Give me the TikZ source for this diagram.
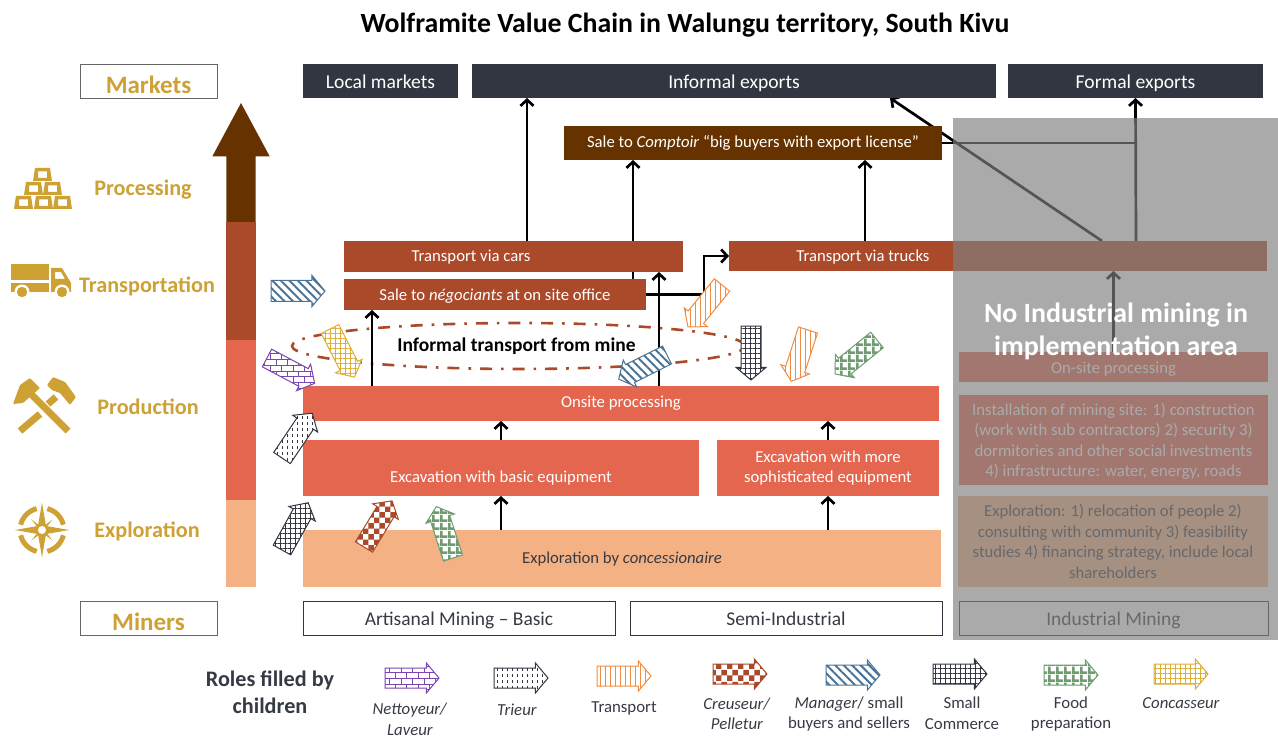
\documentclass[tikz,border=0pt]{standalone}
\usepackage{fontspec}
\setmainfont{Carlito}
\usetikzlibrary{arrows.meta,shapes.arrows,shapes.geometric,patterns,patterns.meta}

\definecolor{marketdark}{HTML}{323640}
\definecolor{procbrown}{HTML}{663300}
\definecolor{transrust}{HTML}{AB4A2B}
\definecolor{prodred}{HTML}{E5664F}
\definecolor{explpeach}{HTML}{F4B183}
\definecolor{icongold}{HTML}{CDA134}
\definecolor{textdark}{HTML}{363A44}
\definecolor{rolepurple}{HTML}{7A45B5}
\definecolor{roleorange}{HTML}{F08C42}
\definecolor{roleblue}{HTML}{4A7497}
\definecolor{rolegreen}{HTML}{6F9C70}
\definecolor{roleyellow}{HTML}{DDAE35}

\pgfdeclarelayer{back}
\pgfsetlayers{back,main}

\pgfdeclarepatternformonly{shortdashes}{\pgfqpoint{-1pt}{-1pt}}{\pgfqpoint{6pt}{7pt}}{\pgfqpoint{5pt}{6pt}}{
  \pgfsetlinewidth{0.7pt}
  \pgfpathmoveto{\pgfqpoint{2pt}{1pt}}
  \pgfpathlineto{\pgfqpoint{2pt}{3.5pt}}
  \pgfusepath{stroke}}
\pgfdeclarepatternformonly{plaid}{\pgfqpoint{0pt}{0pt}}{\pgfqpoint{8pt}{8pt}}{\pgfqpoint{8pt}{8pt}}{
  \pgfpathrectangle{\pgfqpoint{0pt}{0pt}}{\pgfqpoint{8pt}{3pt}}
  \pgfpathrectangle{\pgfqpoint{0pt}{0pt}}{\pgfqpoint{3pt}{8pt}}
  \pgfusepath{fill}}

\tikzset{
  box/.style={rectangle,inner sep=0pt,outer sep=0pt,align=center,text=white,
    font=\fontsize{16.7}{20.4}\selectfont},
  oneline/.style={text height=12pt,text depth=0pt},
  darkbox/.style={box,text height=16pt,text depth=0pt,fill=marketdark,minimum height=34pt,font=\fontsize{19.6}{22}\selectfont},
  headbox/.style={box,draw=gray!80!black,line width=0.8pt,fill=white,minimum width=137pt,minimum height=34pt,
    text=icongold,text height=25.5pt,text depth=0pt,font=\fontsize{25}{26}\selectfont\bfseries},
  minerbox/.style={box,text height=14pt,text depth=0pt,draw=marketdark,line width=0.8pt,fill=white,minimum width=312pt,minimum height=34pt,
    text=textdark,font=\fontsize{19.5}{22}\selectfont},
  stage/.style={text=icongold,inner sep=0pt,text height=15pt,text depth=5pt,font=\fontsize{22.2}{24}\selectfont\bfseries},
  flow/.style={line width=2.7pt,-{Straight Barb[length=6pt,width=13pt,line width=2.7pt]}},
  plain/.style={line width=2.7pt},
  legendtext/.style={align=center,text=textdark,inner sep=0pt,font=\fontsize{16.8}{20.5}\selectfont},
  rolearrow/.style={single arrow,single arrow head extend=5pt,single arrow tip angle=100,
    single arrow head indent=0pt,minimum height=54pt,minimum width=29pt,inner ysep=9.5pt,inner xsep=0pt,outer sep=0pt,
    line width=1pt,anchor=tail,preaction={fill=white}},
  nettoyeur/.style={rolearrow,draw=rolepurple,pattern=bricks,pattern color=rolepurple},
  trieur/.style={rolearrow,draw=marketdark,pattern=shortdashes,pattern color=marketdark},
  transporter/.style={rolearrow,draw=roleorange,pattern={Lines[angle=90,distance=5pt,line width=0.8pt]},pattern color=roleorange},
  creuseur/.style={rolearrow,draw=transrust,pattern=checkerboard,pattern color=transrust},
  manager/.style={rolearrow,draw=roleblue,pattern={Lines[angle=-45,distance=6pt,line width=2pt]},pattern color=roleblue},
  commerce/.style={rolearrow,draw=marketdark,pattern={Hatch[angle=0,distance=5pt,line width=0.7pt]},pattern color=marketdark},
  foodprep/.style={rolearrow,draw=rolegreen,pattern=plaid,pattern color=rolegreen},
  concasseur/.style={rolearrow,draw=roleyellow,pattern={Hatch[angle=0,distance=5pt,line width=0.7pt]},pattern color=roleyellow},
  goldbar/.pic={\fill[icongold,even odd rule] (2,0) -- (17,0) -- (19,13) -- (0,13) -- cycle (5,3.5) rectangle (14,10);}
}

\begin{document}
\begin{tikzpicture}[x=1pt,y=-1pt]
\useasboundingbox (0,0) rectangle (1278,738);

\node[inner sep=0pt,font=\fontsize{27.8}{30}\selectfont\bfseries] (title) at (685,25.5) {Wolframite Value Chain in Walungu territory, South Kivu};

% left column
\node[headbox] (markets) at (148.5,81) {Markets};
\node[headbox] (miners) at (148.5,618) {Miners};
\node[stage] (processing) at (143,191) {Processing};
\node[stage] (transportation) at (147,288) {Transportation};
\node[stage] (production) at (148,409) {Production};
\node[stage] (exploration) at (147,532) {Exploration};

\node[single arrow,fill=procbrown,inner xsep=0pt,inner ysep=14.5pt,outer sep=0pt,rotate=90,anchor=tail,minimum height=119pt,minimum width=57pt,
  single arrow head extend=14pt,single arrow tip angle=56.5] (bigarrow) at (241,222) {};
\node[box,fill=transrust,minimum width=30pt,minimum height=118pt] (bartrans) at (241,281) {};
\node[box,fill=prodred,minimum width=30pt,minimum height=160pt] (barprod) at (241,420) {};
\node[box,fill=explpeach,minimum width=30pt,minimum height=87pt] (barexpl) at (241,543.5) {};

% icons
\foreach \px/\py in {33/168,24/182,43/182,14/196,34/196,53/196}
  \pic at (\px,\py) {goldbar};

\fill[icongold] (11,264) rectangle (49,280);
\fill[icongold] (11,283) rectangle (49,292);
\fill[icongold,even odd rule] (51,268) -- (62,268) -- (71,283) -- (71,292) -- (51,292) -- cycle
  (55,272) -- (61,272) -- (65,279) -- (55,279) -- cycle;
\foreach \px in {22,62} {
  \fill[white] (\px,292) circle[radius=7.5];
  \fill[icongold] (\px,292) circle[radius=5.2];
}

\draw[icongold,line width=7pt] (68,431) -- (29,392);
\draw[icongold,line width=7pt] (20,431) -- (40,414);
\draw[icongold,line width=7pt] (48,404) -- (56,397);
\fill[icongold,rounded corners=1pt] (13,404) -- (20,385) -- (30,378) -- (40,388) -- (23,403) -- cycle;
\fill[icongold,rounded corners=1pt] (47,385) -- (53,377) -- (65,382) -- (76,397) -- (70,405) -- (60,393) -- (52,390) -- cycle;

\begin{scope}[shift={(42,530)}]
\foreach \a in {0,90,180,270} {
  \draw[icongold,line width=5pt] (\a+14:22) arc[start angle=\a+14,end angle=\a+76,radius=22];
  \fill[icongold] (0,0) -- (\a:27) -- (\a+36:6.5) -- (\a+45:15) -- (\a+54:6.5) -- (\a+90:27) -- cycle;
}
\fill[white] (0,0) circle[radius=4];
\end{scope}

% markets
\node[darkbox,minimum width=155pt] (localmk) at (380.5,81) {Local markets};
\node[darkbox,minimum width=524pt] (informalexp) at (734,81) {Informal exports};
\node[darkbox,minimum width=255pt] (formalexp) at (1135.5,81) {Formal exports};

% stages
\node[box,oneline,text depth=3pt,fill=procbrown,minimum width=378pt,minimum height=34pt] (comptoir) at (753,143) {Sale to \textit{Comptoir} “big buyers with export license”};
\node[box,fill=transrust,minimum width=339pt,minimum height=31pt] (cars) at (513.5,256.5) {};
\node[box,oneline] (carstext) at (471,256) {Transport via cars};
\node[box,fill=transrust,minimum width=538pt,minimum height=30pt] (trucks) at (998,256) {};
\node[box,oneline] (truckstext) at (863,256) {Transport via trucks};
\node[box,oneline,fill=transrust,minimum width=302pt,minimum height=31pt] (negociants) at (495,294.5) {Sale to \textit{négociants} at on site office};
\node[box,fill=prodred,minimum width=636pt,minimum height=35pt] (onsite) at (621,403.5) {};
\node[box,oneline] (onsitetext) at (621,401) {Onsite processing};
\node[box,fill=prodred,minimum width=396pt,minimum height=56pt] (excavbasic) at (501,468) {};
\node[box,oneline] (excavbasictext) at (501,476) {Excavation with basic equipment};
\node[box,fill=prodred,minimum width=222pt,minimum height=56pt] (excavmore) at (828,468) {Excavation with more\\sophisticated equipment};
\node[box,oneline,text depth=3pt,fill=explpeach,minimum width=638pt,minimum height=57pt,text=textdark] (concess) at (622,558.5) {Exploration by \textit{concessionaire}};

\node[minerbox] (artisanal) at (459,618) {Artisanal Mining – Basic};
\node[minerbox] (semi) at (786,618) {Semi-Industrial};

% industrial column, dimmed further down
\node[box,oneline,fill=prodred,minimum width=309pt,minimum height=30pt] (onsiteind) at (1113.5,367) {On-site processing};
\node[box,fill=prodred,minimum width=309pt,minimum height=90pt] (installind) at (1113.5,440) {};
\node[box] (installtext) at (1113.5,441.5) {Installation of mining site: 1) construction\\(work with sub contractors) 2) security 3)\\dormitories and other social investments\\4) infrastructure: water, energy, roads};
\node[box,fill=explpeach,minimum width=310pt,minimum height=91pt,text=textdark] (explind) at (1113,541.5) {Exploration: 1) relocation of people 2)\\consulting with community 3) feasibility\\studies 4) financing strategy, include local\\shareholders};
\node[minerbox,minimum width=309pt] (industrial) at (1113.5,618) {Industrial Mining};

\begin{pgfonlayer}{back}
\node[ellipse,draw=transrust,line width=2.6pt,dash pattern=on 12pt off 9pt on 2.6pt off 9pt,minimum width=453pt,minimum height=46pt,
  inner sep=0pt,font=\fontsize{19.5}{22}\selectfont\bfseries] (informal) at (518.5,346) {Informal transport from mine\hspace*{4pt}};

\draw[flow] (concess.north -| excavbasic) -- (excavbasic.south);
\draw[flow] (concess.north -| excavmore) -- (excavmore.south);
\draw[flow] (excavbasic.north) -- (onsite.south -| excavbasic);
\draw[flow] (excavmore.north) -- (onsite.south -| excavmore);
\draw[flow] ([xshift=-249pt]onsite.north) -- ([xshift=-123pt]negociants.south);
\draw[flow] ([xshift=38pt]onsite.north) -- ([xshift=145.5pt]cars.south);
\draw[flow] ([xshift=138pt]negociants.north) -- ([xshift=-120pt]comptoir.south);
\draw[flow] ([xshift=13.5pt]cars.north) -- ([xshift=-207pt]informalexp.south);
\draw[flow] ([xshift=-133pt]trucks.north) -- ([xshift=112pt]comptoir.south);
\draw[flow] (negociants.east) -- ++(58,0) |- (trucks.west);
\draw[flow] ([xshift=104pt]trucks.north) -- ([xshift=156pt]informalexp.south);
\draw[flow] ([xshift=138pt]trucks.north) -- (formalexp.south);
\draw[plain] (comptoir.east) -- (comptoir.east -| formalexp);
\draw[flow] (onsiteind.north) -- (trucks.south -| onsiteind);
\end{pgfonlayer}

% child labour arrows
\node[manager] (mgrtop) at (271,291) {};
\node[nettoyeur,rotate=-28] (netmain) at (267,358) {};
\node[concasseur,rotate=-63] (concmain) at (330,329) {};
\node[manager,rotate=206.6] (mgrmain) at (667,355) {};
\node[transporter,rotate=231] (tranone) at (722,285) {};
\node[commerce,rotate=270] (commain) at (751,326) {};
\node[transporter,rotate=252] (trantwo) at (808,330) {};
\node[foodprep,rotate=219] (foodone) at (877,340) {};
\node[trieur,rotate=56] (triemain) at (282,458) {};
\node[commerce,rotate=61] (comlow) at (282,550) {};
\node[creuseur,rotate=58.7] (creumain) at (364,547) {};
\node[foodprep,rotate=108] (foodtwo) at (453,558) {};

% grey cover over the industrial column
\node[rectangle,fill=gray,fill opacity=0.667,minimum width=325pt,minimum height=522pt,inner sep=0pt] (cover) at (1115.5,379) {};
\node[align=center,text=white,inner sep=0pt,font=\fontsize{27.9}{33}\selectfont\bfseries] (noind) at (1116,331.5) {No Industrial mining in\\implementation area};

% legend
\node[align=center,text=textdark,inner sep=0pt,font=\fontsize{22.2}{27}\selectfont\bfseries] (rolesleg) at (270,692) {Roles filled by\\children};
\node[nettoyeur] (legnet) at (385,678) {};
\node[trieur] (legtrie) at (494,678) {};
\node[transporter] (legtran) at (597,676) {};
\node[creuseur] (legcreu) at (713,674) {};
\node[manager] (legmgr) at (826,675) {};
\node[commerce] (legcom) at (933,674) {};
\node[foodprep] (legfood) at (1044,675) {};
\node[concasseur] (legconc) at (1154,674) {};
\node[legendtext] (txtnet) at (410,719.5) {\textit{Nettoyeur/}\\\textit{Laveur}};
\node[legendtext] (txttrie) at (517,710) {\textit{Trieur}};
\node[legendtext] (txttran) at (624,708) {Transport};
\node[legendtext] (txtcreu) at (737,714) {\textit{Creuseur/}\\\textit{Pelletur}};
\node[legendtext] (txtmgr) at (849,714) {\textit{Manager}/ small\\buyers and sellers};
\node[legendtext] (txtcom) at (962,713) {Small\\Commerce};
\node[legendtext] (txtfood) at (1071,714) {Food\\preparation};
\node[legendtext] (txtconc) at (1181,703) {\textit{Concasseur}};
\end{tikzpicture}
\end{document}
